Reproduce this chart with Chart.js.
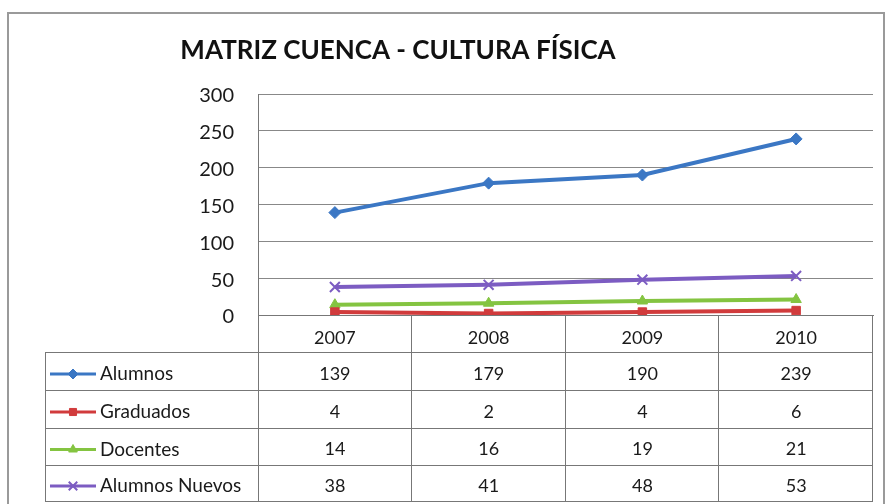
<!DOCTYPE html>
<html>
<head>
<meta charset="utf-8">
<script src="https://cdn.jsdelivr.net/npm/chart.js@4/dist/chart.umd.min.js"></script>
<style>
  html, body { margin: 0; padding: 0; background: #fff; }
  #wrap { width: 886px; height: 504px; position: relative; }
</style>
</head>
<body>
<div id="wrap"><canvas id="chart" width="886" height="504"></canvas></div>
<script>
const title = "MATRIZ CUENCA - CULTURA FÍSICA";
const years = ["2007", "2008", "2009", "2010"];
const seriesNames = ["Alumnos", "Graduados", "Docentes", "Alumnos Nuevos"];
const alumnos = [139, 179, 190, 239];
const graduados = [4, 2, 4, 6];
const docentes = [14, 16, 19, 21];
const alumnosNuevos = [38, 41, 48, 53];
const yTicks = [0, 50, 100, 150, 200, 250, 300];

const colors = ["#3b77c4", "#d13b3c", "#84c441", "#7c5cc2"];
const markers = ["rectRot", "rect", "triangle", "crossRot"];
const values = [alumnos, graduados, docentes, alumnosNuevos];
const font = "Lato, 'Open Sans', sans-serif";

// title, frame and the data table under the plot
const tablePlugin = {
  id: "dataTable",
  afterDraw(chart) {
    const ctx = chart.ctx;
    const x = chart.scales.x;
    const area = chart.chartArea;
    const left = 45;
    const rowTops = [352, 390, 428, 465, 501];
    ctx.save();

    ctx.strokeStyle = "#9a9a9a";
    ctx.lineWidth = 2;
    ctx.strokeRect(8, 13, 876, 520);

    ctx.fillStyle = "#111";
    ctx.font = "bold 26px " + font;
    ctx.textAlign = "center";
    ctx.textBaseline = "middle";
    ctx.fillText(title, 398, 51);

    ctx.strokeStyle = "#777";
    ctx.lineWidth = 1;
    ctx.beginPath();
    rowTops.forEach((y) => {
      ctx.moveTo(left, y + 0.5);
      ctx.lineTo(area.right, y + 0.5);
    });
    ctx.moveTo(left + 0.5, rowTops[0]);
    ctx.lineTo(left + 0.5, rowTops[rowTops.length - 1]);
    ctx.moveTo(area.left + 0.5, area.bottom);
    ctx.lineTo(area.left + 0.5, rowTops[rowTops.length - 1]);
    const step = (area.right - area.left) / years.length;
    for (let i = 1; i <= years.length; i++) {
      const vx = Math.round(area.left + step * i) - 0.5;
      ctx.moveTo(vx, area.bottom);
      ctx.lineTo(vx, rowTops[rowTops.length - 1]);
    }
    ctx.stroke();

    ctx.textBaseline = "middle";
    seriesNames.forEach((name, r) => {
      const cy = (rowTops[r] + rowTops[r + 1]) / 2 + 3;
      ctx.strokeStyle = colors[r];
      ctx.fillStyle = colors[r];
      ctx.lineWidth = 3;
      ctx.beginPath();
      ctx.moveTo(50, cy);
      ctx.lineTo(96, cy);
      ctx.stroke();
      ctx.lineWidth = markers[r] === "crossRot" ? 2 : 1;
      Chart.helpers.drawPoint(ctx, {
        pointStyle: markers[r],
        radius: markers[r] === "crossRot" ? 6 : 5,
        borderWidth: ctx.lineWidth,
      }, 73, cy);
      ctx.fillStyle = "#1a1a1a";
      ctx.font = "19px " + font;
      ctx.textAlign = "left";
      ctx.fillText(name, 100, cy);
      ctx.font = "18px " + font;
      ctx.textAlign = "center";
      values[r].forEach((v, i) => {
        ctx.fillText(String(v), x.getPixelForValue(i), cy);
      });
    });
    ctx.restore();
  },
};

const ctx = document.getElementById("chart").getContext("2d");
new Chart(ctx, {
  type: "line",
  data: {
    labels: years,
    datasets: seriesNames.map((name, i) => ({
      label: name,
      data: values[i],
      borderColor: colors[i],
      backgroundColor: colors[i],
      borderWidth: 4,
      pointStyle: markers[i],
      pointRadius: markers[i] === "crossRot" ? 7 : 6,
      pointBorderWidth: markers[i] === "crossRot" ? 2 : 1,
      tension: 0,
    })),
  },
  options: {
    responsive: false,
    animation: false,
    devicePixelRatio: 1,
    layout: { padding: { top: 94, right: 13, left: 0, bottom: 0 } },
    plugins: {
      legend: { display: false },
      title: { display: false },
      tooltip: { enabled: false },
    },
    scales: {
      x: {
        offset: true,
        afterFit: (scale) => { scale.height = 189; },
        grid: { display: false, drawTicks: false },
        border: { display: true, color: "#777", width: 1 },
        ticks: { color: "#1a1a1a", font: { family: font, size: 18 }, padding: 12 },
      },
      y: {
        min: 0,
        max: 300,
        afterFit: (scale) => { scale.width = 258; },
        afterBuildTicks: (scale) => { scale.ticks = yTicks.map((v) => ({ value: v })); },
        grid: { color: "#888", drawTicks: false },
        border: { display: true, color: "#777", width: 1 },
        ticks: { color: "#1a1a1a", font: { family: font, size: 20 }, padding: 24, labelOffset: 2 },
      },
    },
  },
  plugins: [tablePlugin],
});
</script>
</body>
</html>
